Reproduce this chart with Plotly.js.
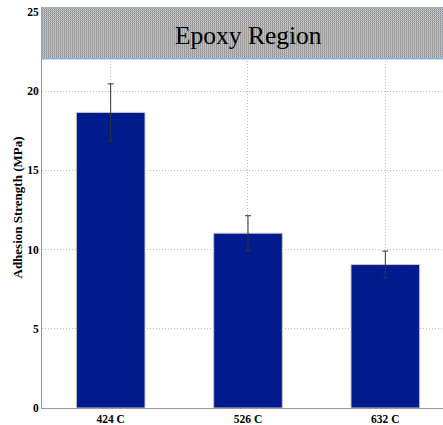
<!DOCTYPE html>
<html>
<head>
<meta charset="utf-8">
<script src="https://cdn.plot.ly/plotly-3.0.1.min.js"></script>
<style>html,body{margin:0;padding:0;background:#fff;}#chart{width:443px;height:425px;}</style>
</head>
<body>
<div id="chart"></div>
<script>
var categories = ["424 C", "526 C", "632 C"];
var strength = [18.65, 11.03, 9.05];
var strengthErr = [1.8, 1.1, 0.85];
var yTicks = [0, 5, 10, 15, 20, 25];
var regionLabel = "Epoxy Region";
var regionRange = [22.05, 25.3];

var serif = "Liberation Serif, Times New Roman, serif";

var checker = 'data:image/svg+xml;utf8,' + encodeURIComponent(
  '<svg xmlns="http://www.w3.org/2000/svg" width="401" height="51" shape-rendering="crispEdges">' +
  '<defs><pattern id="p" width="2" height="2" patternUnits="userSpaceOnUse">' +
  '<rect width="2" height="2" fill="#d0d0d0"/>' +
  '<rect width="1" height="1" fill="#8a8a8a"/>' +
  '<rect x="1" y="1" width="1" height="1" fill="#8a8a8a"/>' +
  '</pattern></defs>' +
  '<rect width="401" height="51" fill="url(#p)"/>' +
  '</svg>');

var trace = {
  type: "bar",
  x: [0, 1, 2],
  y: strength,
  width: 0.5,
  marker: {color: "#001b8e", line: {color: "#c8c8c8", width: 1}},
  error_y: {type: "data", array: strengthErr, visible: true, color: "#333333", thickness: 1, width: 3},
  hoverinfo: "skip"
};

var layout = {
  width: 443, height: 425,
  margin: {l: 42, r: 0, t: 7, b: 17},
  paper_bgcolor: "#ffffff",
  plot_bgcolor: "#ffffff",
  showlegend: false,
  xaxis: {
    range: [-0.5, 2.42],
    tickvals: [0, 1, 2],
    ticktext: categories,
    showgrid: true, gridcolor: "#bdbdbd", griddash: "1px,2px", gridwidth: 1,
    zeroline: false,
    showline: true, linecolor: "#9a9a9a", linewidth: 1,
    ticks: "",
    tickfont: {family: serif, size: 11.5, color: "#000", weight: "bold"}
  },
  yaxis: {
    range: [0, 25.3],
    tickvals: yTicks,
    showgrid: true, gridcolor: "#bdbdbd", griddash: "1px,2px", gridwidth: 1,
    zeroline: false,
    showline: true, linecolor: "#9a9a9a", linewidth: 1,
    ticks: "",
    ticklen: 0,
    tickfont: {family: serif, size: 11.5, color: "#000", weight: "bold"},
    title: {text: "Adhesion Strength (MPa)", font: {family: serif, size: 13, color: "#000", weight: "bold"}, standoff: 1}
  },
  images: [{
    source: checker,
    xref: "paper", yref: "y",
    x: 0, y: regionRange[1],
    sizex: 1, sizey: regionRange[1] - regionRange[0],
    sizing: "stretch",
    layer: "above",
    xanchor: "left", yanchor: "top"
  }],
  shapes: [{
    type: "rect", xref: "paper", yref: "y",
    x0: 0, x1: 1, y0: regionRange[0], y1: regionRange[1],
    line: {color: "#8fb0d8", width: 1},
    fillcolor: "rgba(0,0,0,0)",
    layer: "above"
  }, {
    type: "line", xref: "paper", yref: "y",
    x0: 0, x1: 1, y0: regionRange[0], y1: regionRange[0],
    line: {color: "#8fb0d8", width: 2},
    layer: "above"
  }],
  annotations: [{
    text: regionLabel,
    xref: "paper", yref: "y",
    x: 0.515, y: (regionRange[0] + regionRange[1]) / 2 - 0.15,
    showarrow: false,
    font: {family: serif, size: 25.5, color: "#000"},
    xanchor: "center", yanchor: "middle"
  }]
};

Plotly.newPlot("chart", [trace], layout, {displayModeBar: false, staticPlot: true});
</script>
</body>
</html>
